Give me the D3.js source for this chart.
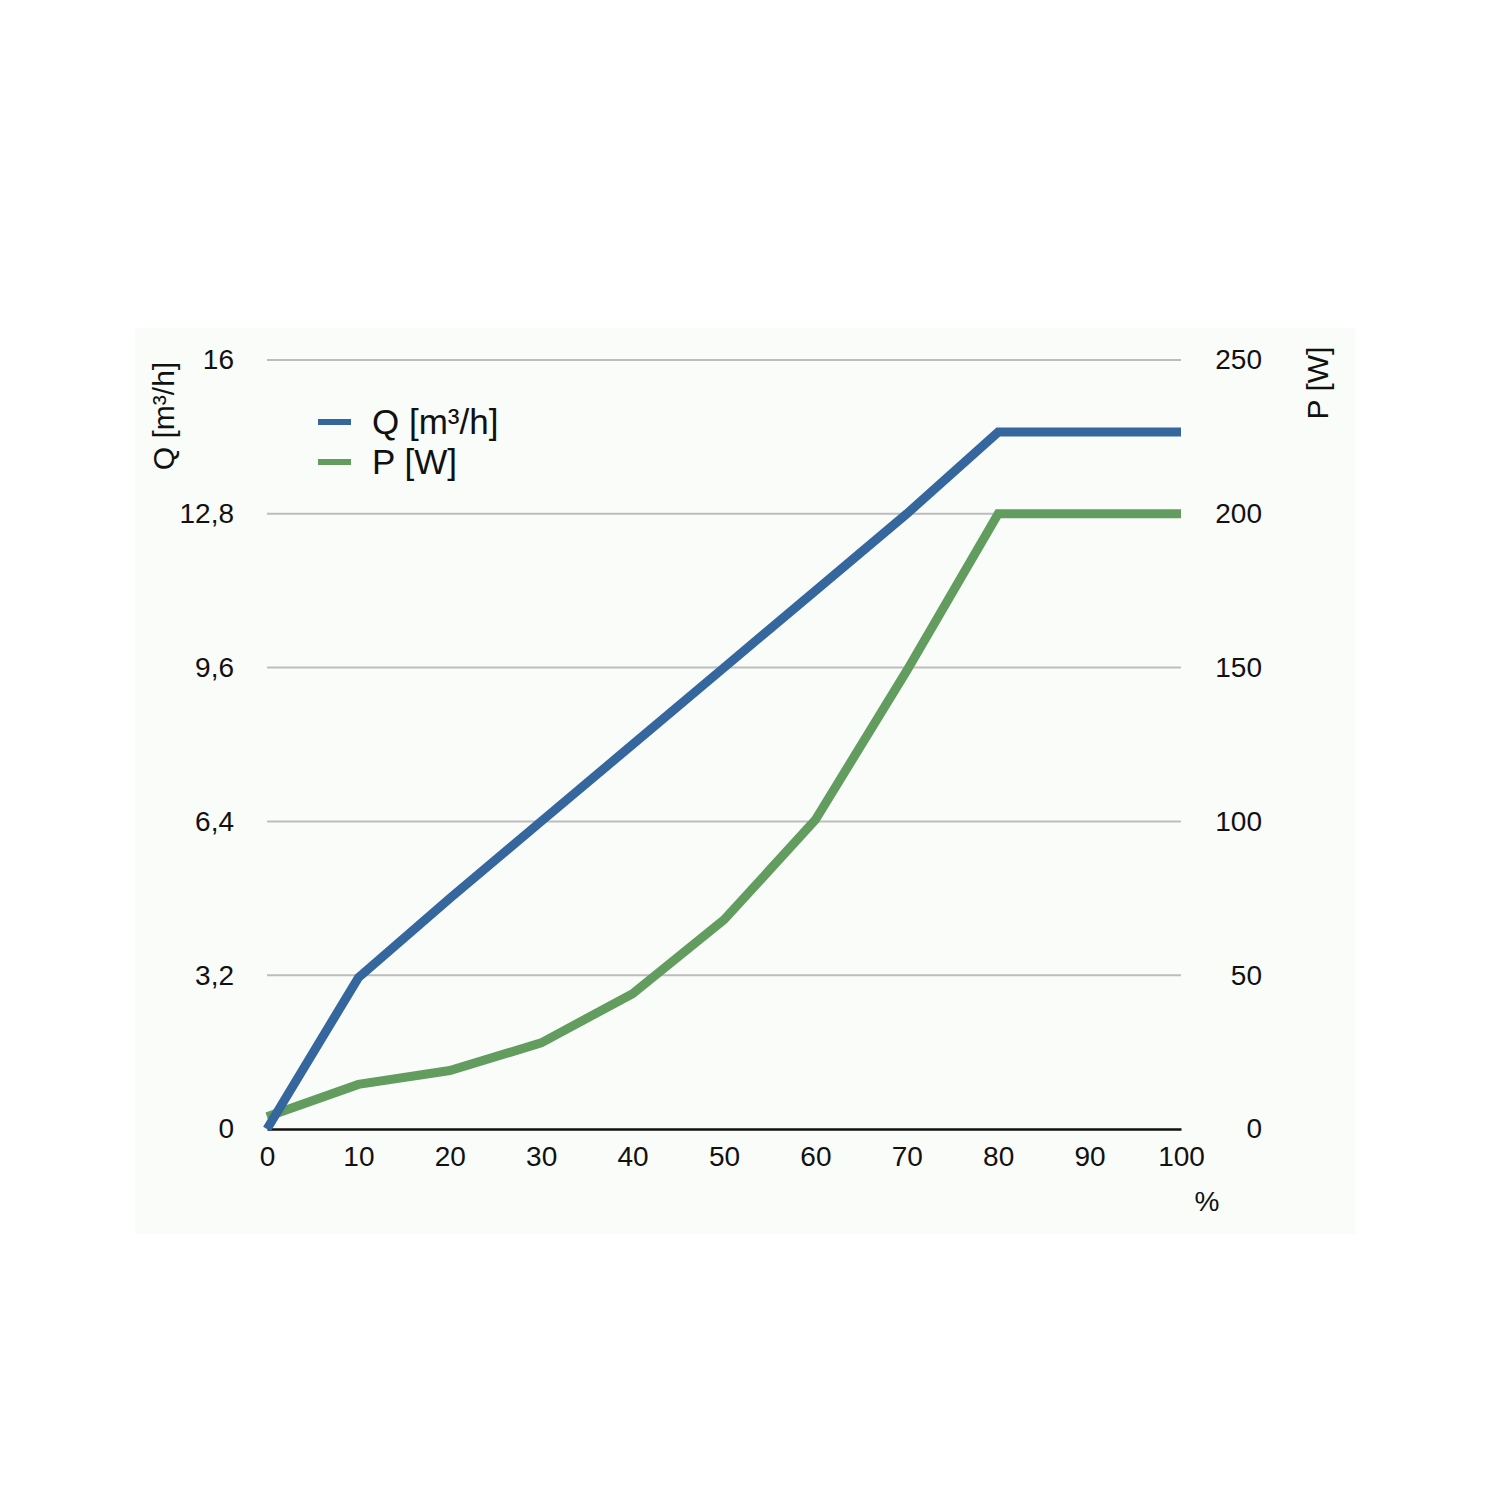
<!DOCTYPE html>
<html><head><meta charset="utf-8">
<script src="https://cdn.jsdelivr.net/npm/d3@7"></script>
<style>body{margin:0;background:#fff;} text{font-family:"Liberation Sans",Arial,sans-serif;fill:#111;}</style>
</head><body>
<svg id="c" width="1500" height="1500"></svg>
<script>
const xValues = [0,10,20,30,40,50,60,70,80,90,100];
const qValues = [0,3.15,4.8,6.4,8.0,9.6,11.2,12.8,14.5,14.5,14.5];
const pValues = [4,14.5,19,28,44,68,100.5,149,200,200,200];
const leftTicks = [0,3.2,6.4,9.6,12.8,16];
const rightTicks = [0,50,100,150,200,250];
const seriesNames = ["Q [m³/h]","P [W]"];
const colors = ["#35669e","#629c5f"];

const svg = d3.select("#c");
svg.append("rect").attr("x",135).attr("y",328).attr("width",1220).attr("height",906).attr("fill","#fafcf9");

const x = d3.scaleLinear().domain([0,100]).range([267,1181]);
const yL = d3.scaleLinear().domain([0,16]).range([1129,360]);
const yR = d3.scaleLinear().domain([0,250]).range([1129,360]);

svg.append("g").selectAll("line").data(leftTicks.filter(d=>d>0)).join("line")
  .attr("x1",267).attr("x2",1181).attr("y1",d=>yL(d)).attr("y2",d=>yL(d))
  .attr("stroke","#bdbdbd").attr("stroke-width",2);

const fmt = d=> String(d).replace(".",",");
const FS = 28;
const gl = svg.append("g").attr("transform","translate(234,0)")
  .call(d3.axisLeft(yL).tickValues(leftTicks).tickFormat(fmt).tickSize(0).tickPadding(0));
gl.select(".domain").remove();
gl.selectAll("text").attr("font-size",FS).attr("fill","#111").attr("font-family","Liberation Sans, Arial, sans-serif");

const gr = svg.append("g").attr("transform","translate(1262,0)")
  .call(d3.axisLeft(yR).tickValues(rightTicks).tickSize(0).tickPadding(0));
gr.select(".domain").remove();
gr.selectAll("text").attr("font-size",FS).attr("fill","#111").attr("font-family","Liberation Sans, Arial, sans-serif");

const gx = svg.append("g").attr("transform","translate(0,1129)")
  .call(d3.axisBottom(x).tickValues(xValues).tickSize(0).tickPadding(17));
gx.select(".domain").attr("stroke","#111").attr("stroke-width",2.5);
gx.selectAll("text").attr("font-size",FS).attr("fill","#111").attr("font-family","Liberation Sans, Arial, sans-serif");

const lineQ = d3.line().x((d,i)=>x(xValues[i])).y(d=>yL(d));
const lineP = d3.line().x((d,i)=>x(xValues[i])).y(d=>yR(d));
svg.append("path").datum(pValues).attr("d",lineP).attr("fill","none").attr("stroke",colors[1]).attr("stroke-width",9).attr("stroke-linejoin","miter");
svg.append("path").datum(qValues).attr("d",lineQ).attr("fill","none").attr("stroke",colors[0]).attr("stroke-width",9).attr("stroke-linejoin","miter");

svg.append("text").attr("transform","translate(174,416) rotate(-90)").attr("text-anchor","middle").attr("font-size",30).text("Q [m³/h]");
svg.append("text").attr("transform","translate(1328,383) rotate(-90)").attr("text-anchor","middle").attr("font-size",30).text("P [W]");
svg.append("text").attr("x",1207).attr("y",1211).attr("text-anchor","middle").attr("font-size",28).text("%");

const leg = svg.append("g");
seriesNames.forEach((n,i)=>{
  const yy = 422 + i*40;
  leg.append("line").attr("x1",318).attr("x2",351).attr("y1",yy).attr("y2",yy).attr("stroke",colors[i]).attr("stroke-width",6);
  leg.append("text").attr("x",372).attr("y",yy+12).attr("font-size",35).text(n);
});
</script>
</body></html>
